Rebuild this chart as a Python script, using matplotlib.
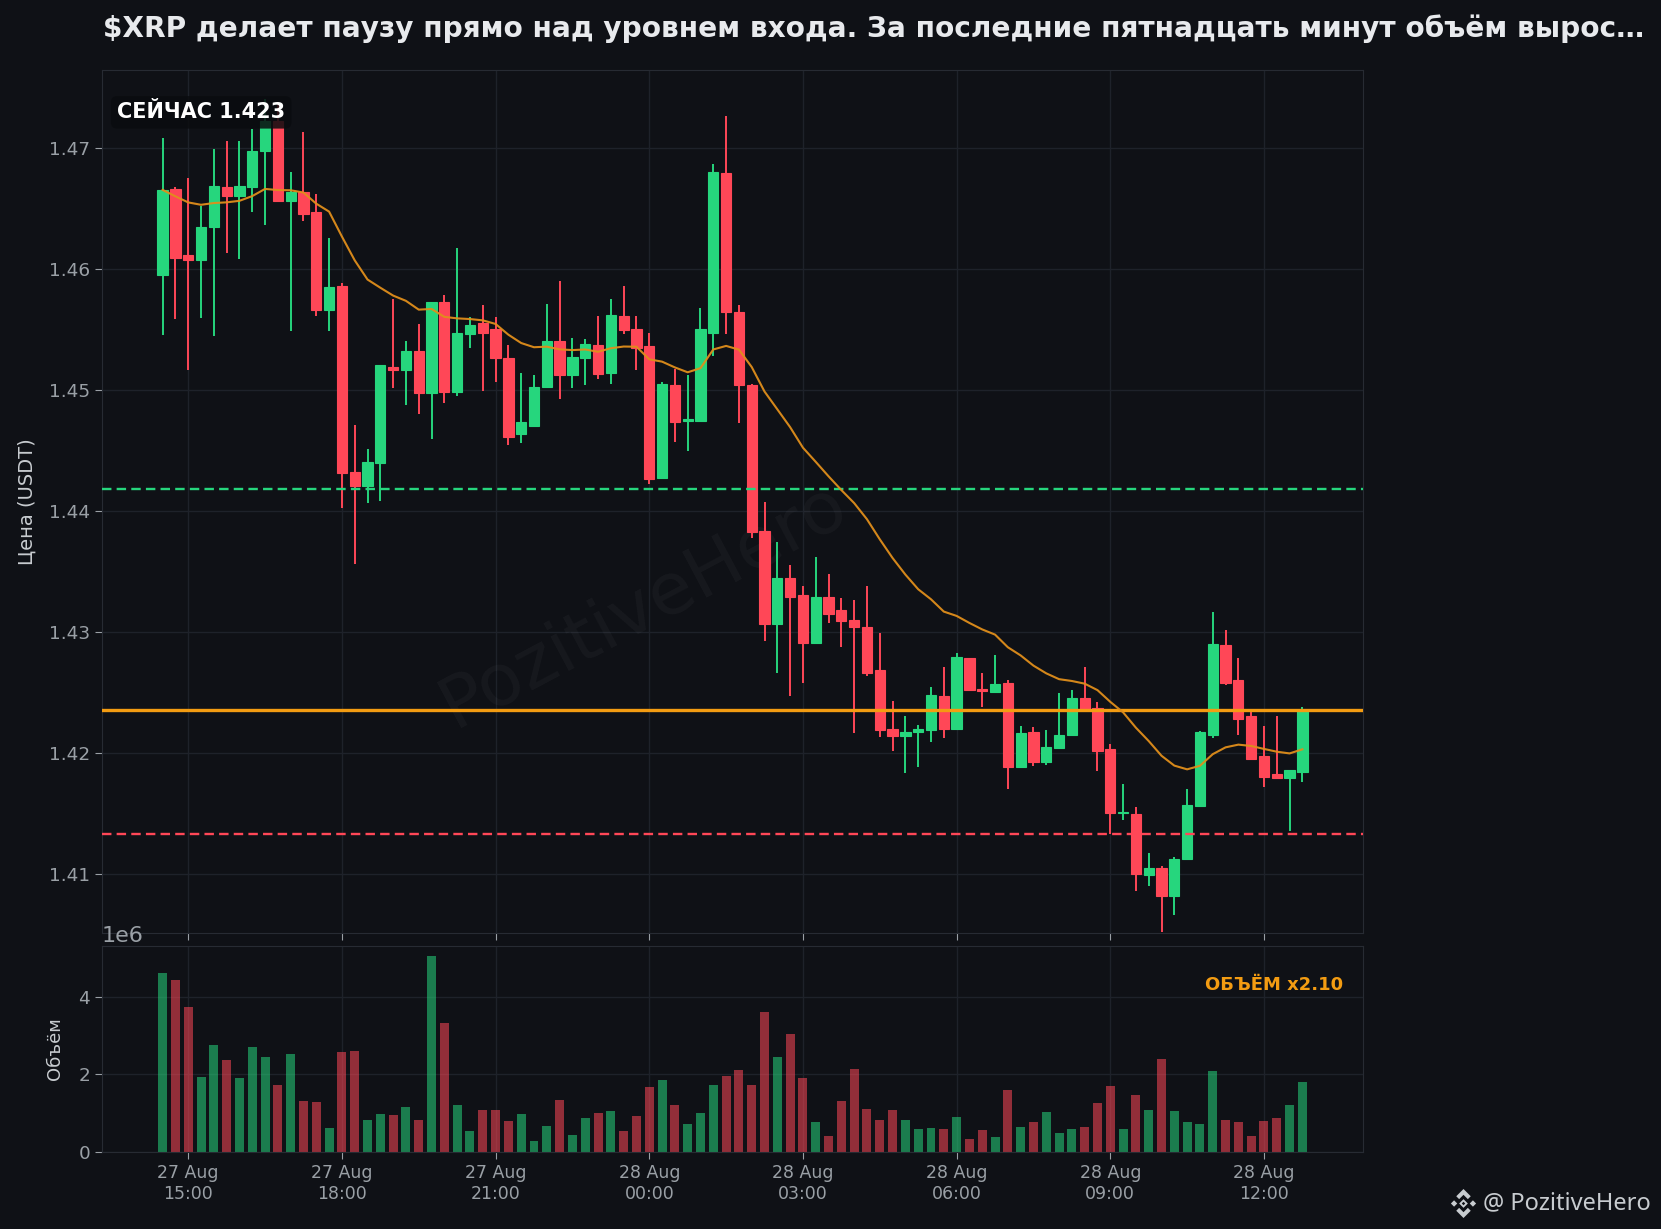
import numpy as np
import pandas as pd
import matplotlib
matplotlib.use('Agg')
import matplotlib.pyplot as plt
import matplotlib.dates as mdates
from matplotlib.patches import Polygon
from matplotlib.ticker import MultipleLocator, FormatStrFormatter

######################## data (15m candles) ########################

startTime = '2025-08-27 14:30'

openList = [1.4595, 1.4666, 1.4611, 1.4607, 1.4634, 1.4667, 1.4660, 1.4667, 1.4697, 1.4722,
            1.4656, 1.4663, 1.4647, 1.4566, 1.4586, 1.4432, 1.4420, 1.4439, 1.4519, 1.4516,
            1.4532, 1.4497, 1.4572, 1.4498, 1.4546, 1.4555, 1.4550, 1.4526, 1.4463, 1.4470,
            1.4502, 1.4540, 1.4512, 1.4526, 1.4537, 1.4514, 1.4561, 1.4550, 1.4536, 1.4427,
            1.4504, 1.4474, 1.4474, 1.4547, 1.4679, 1.4564, 1.4504, 1.4383, 1.4306, 1.4344,
            1.4330, 1.4291, 1.4329, 1.4318, 1.4310, 1.4304, 1.4268, 1.4220, 1.4214, 1.4217,
            1.4219, 1.4247, 1.4220, 1.4278, 1.4253, 1.4250, 1.4258, 1.4188, 1.4217, 1.4192,
            1.4204, 1.4215, 1.4245, 1.4237, 1.4203, 1.4150, 1.4149, 1.4099, 1.4105, 1.4082,
            1.4112, 1.4156, 1.4215, 1.4289, 1.4260, 1.4230, 1.4197, 1.4182, 1.4179, 1.4184]
highList = [1.4708, 1.4667, 1.4675, 1.4652, 1.4699, 1.4705, 1.4705, 1.4715, 1.4740, 1.4735,
            1.4680, 1.4713, 1.4662, 1.4625, 1.4588, 1.4471, 1.4451, 1.4520, 1.4575, 1.4540,
            1.4554, 1.4572, 1.4578, 1.4617, 1.4560, 1.4570, 1.4560, 1.4537, 1.4514, 1.4512,
            1.4571, 1.4590, 1.4543, 1.4542, 1.4561, 1.4575, 1.4586, 1.4561, 1.4547, 1.4506,
            1.4517, 1.4512, 1.4567, 1.4686, 1.4726, 1.4570, 1.4505, 1.4407, 1.4374, 1.4355,
            1.4338, 1.4362, 1.4348, 1.4328, 1.4326, 1.4338, 1.4299, 1.4243, 1.4230, 1.4223,
            1.4254, 1.4271, 1.4282, 1.4278, 1.4266, 1.4281, 1.4260, 1.4222, 1.4221, 1.4219,
            1.4249, 1.4252, 1.4271, 1.4242, 1.4207, 1.4174, 1.4155, 1.4117, 1.4106, 1.4114,
            1.4170, 1.4218, 1.4316, 1.4301, 1.4278, 1.4234, 1.4222, 1.4230, 1.4186, 1.4238]
lowList = [1.4545, 1.4558, 1.4516, 1.4559, 1.4544, 1.4613, 1.4608, 1.4647, 1.4636, 1.4655,
           1.4548, 1.4639, 1.4561, 1.4548, 1.4402, 1.4356, 1.4406, 1.4408, 1.4501, 1.4487,
           1.4480, 1.4459, 1.4489, 1.4495, 1.4534, 1.4499, 1.4506, 1.4454, 1.4456, 1.4469,
           1.4502, 1.4492, 1.4501, 1.4504, 1.4509, 1.4505, 1.4546, 1.4516, 1.4422, 1.4426,
           1.4457, 1.4449, 1.4473, 1.4528, 1.4546, 1.4472, 1.4377, 1.4292, 1.4266, 1.4247,
           1.4258, 1.4290, 1.4307, 1.4287, 1.4216, 1.4263, 1.4213, 1.4201, 1.4183, 1.4188,
           1.4209, 1.4212, 1.4220, 1.4251, 1.4238, 1.4250, 1.4170, 1.4187, 1.4189, 1.4190,
           1.4204, 1.4215, 1.4236, 1.4185, 1.4133, 1.4144, 1.4086, 1.4090, 1.4052, 1.4066,
           1.4112, 1.4156, 1.4212, 1.4256, 1.4215, 1.4194, 1.4172, 1.4179, 1.4135, 1.4176]
closeList = [1.4665, 1.4609, 1.4607, 1.4634, 1.4668, 1.4660, 1.4668, 1.4697, 1.4722, 1.4656,
             1.4663, 1.4645, 1.4566, 1.4585, 1.4431, 1.4420, 1.4440, 1.4520, 1.4516, 1.4532,
             1.4497, 1.4572, 1.4498, 1.4547, 1.4553, 1.4547, 1.4526, 1.4461, 1.4473, 1.4502,
             1.4540, 1.4512, 1.4527, 1.4538, 1.4513, 1.4562, 1.4549, 1.4534, 1.4426, 1.4505,
             1.4473, 1.4476, 1.4550, 1.4680, 1.4564, 1.4504, 1.4382, 1.4306, 1.4344, 1.4329,
             1.4291, 1.4329, 1.4315, 1.4309, 1.4304, 1.4266, 1.4219, 1.4214, 1.4217, 1.4220,
             1.4248, 1.4220, 1.4279, 1.4252, 1.4251, 1.4257, 1.4188, 1.4216, 1.4192, 1.4205,
             1.4215, 1.4245, 1.4236, 1.4201, 1.4150, 1.4151, 1.4100, 1.4105, 1.4082, 1.4112,
             1.4157, 1.4217, 1.4290, 1.4258, 1.4228, 1.4195, 1.4180, 1.4179, 1.4186, 1.4235]
# volume in millions
volMil = [4.62, 4.44, 3.74, 1.93, 2.76, 2.37, 1.91, 2.71, 2.45, 1.72,
          2.53, 1.31, 1.28, 0.61, 2.58, 2.60, 0.82, 0.97, 0.95, 1.16,
          0.82, 5.06, 3.33, 1.21, 0.53, 1.08, 1.08, 0.79, 0.97, 0.28,
          0.66, 1.34, 0.43, 0.87, 1.00, 1.05, 0.53, 0.92, 1.67, 1.85,
          1.21, 0.72, 1.00, 1.72, 1.96, 2.11, 1.72, 3.61, 2.45, 3.04,
          1.91, 0.77, 0.41, 1.31, 2.14, 1.10, 0.82, 1.08, 0.82, 0.59,
          0.61, 0.59, 0.90, 0.33, 0.56, 0.38, 1.59, 0.64, 0.77, 1.03,
          0.48, 0.59, 0.64, 1.26, 1.70, 0.59, 1.47, 1.08, 2.40, 1.05,
          0.77, 0.72, 2.09, 0.82, 0.77, 0.41, 0.79, 0.87, 1.21, 1.80]

entryLevel = 1.4418
stopLevel = 1.4133
titleStr = '$XRP делает паузу прямо над уровнем входа. За последние пятнадцать минут объём вырос…'
volRatioStr = 'ОБЪЁМ x2.10'

######################## style ########################

bgColor = '#0f1116'
gridColor = '#1e222a'
spineColor = '#272b33'
tickColor = '#9aa0a6'
upColor = '#26d67d'
downColor = '#ff4757'
orange = '#f39c12'

o = np.array(openList)
h = np.array(highList)
l = np.array(lowList)
c = np.array(closeList)
vol = np.array(volMil) * 1e6
times = pd.date_range(startTime, periods=len(c), freq='15min')
isUp = c >= o
colors = np.where(isUp, upColor, downColor)
ema = pd.Series(c).ewm(span=20, adjust=False).mean().values
lastPrice = c[-1]

step = 15 / 1440  # 15 min in days
fig = plt.figure(figsize=(16.61, 12.29), dpi=100, facecolor=bgColor)
ax = fig.add_axes([0.0614, 0.2408, 0.7592, 0.7022], facecolor=bgColor)
axV = fig.add_axes([0.0614, 0.0627, 0.7592, 0.1676], facecolor=bgColor, sharex=ax)

for a in (ax, axV):
    a.grid(True, color=gridColor, lw=1)
    a.set_axisbelow(True)
    for s in a.spines.values():
        s.set_color(spineColor)
    a.tick_params(colors=tickColor, length=5)
    a.tick_params(axis='y', labelsize=13.3)
    a.tick_params(axis='x', labelsize=12.5)

######################## price panel ########################

ax.text(0.43, 0.38, 'PozitiveHero', transform=ax.transAxes, fontsize=52,
        color='white', alpha=0.035, rotation=28, ha='center', va='center', zorder=1)

ax.vlines(times, l, h, colors=colors, lw=1.4, zorder=2)
bodyH = np.abs(c - o)
bodyH = np.where(bodyH < 0.00008, 0.00008, bodyH)
ax.bar(times, bodyH, bottom=np.minimum(o, c), width=0.8 * step,
       color=colors, edgecolor=colors, lw=0.8, zorder=3)

ax.axhline(entryLevel, color=upColor, lw=1.7, ls=(0, (4, 2.2)), zorder=4)
ax.axhline(stopLevel, color=downColor, lw=1.7, ls=(0, (4, 2.2)), zorder=4)
ax.axhline(lastPrice, color=orange, lw=2.4, zorder=4)
ax.plot(times, ema, color='#e08e1b', lw=1.5, alpha=0.95, zorder=5)

ax.set_ylim(1.4051, 1.4764)
ax.yaxis.set_major_locator(MultipleLocator(0.01))
ax.yaxis.set_major_formatter(FormatStrFormatter('%.2f'))
ax.set_ylabel('Цена (USDT)', color='#c8ccd0', fontsize=14, labelpad=9)
ax.tick_params(axis='x', labelbottom=False)

ax.text(0.012, 0.951, f'СЕЙЧАС {lastPrice:.3f}', transform=ax.transAxes,
        fontsize=15, fontweight='bold', color='white', ha='left', va='center', zorder=7,
        bbox=dict(boxstyle='round,pad=0.3', fc='#0a0c0f', ec='none', alpha=0.85))

######################## volume panel ########################

volColors = np.where(isUp, upColor, downColor)
axV.bar(times, vol, width=0.7 * step, color=volColors, alpha=0.55, zorder=2)
axV.set_ylim(0, vol.max() * 1.05)
axV.yaxis.set_major_locator(MultipleLocator(2e6))
axV.yaxis.get_offset_text().set_fontsize(16)
axV.yaxis.get_offset_text().set_color(tickColor)
axV.set_ylabel('Объём', color='#c8ccd0', fontsize=13, labelpad=10)
axV.text(0.984, 0.81, volRatioStr, transform=axV.transAxes, fontsize=13,
         fontweight='bold', color=orange, ha='right', va='center')

axV.xaxis.set_major_locator(mdates.HourLocator(byhour=range(0, 24, 3)))
axV.xaxis.set_major_formatter(mdates.DateFormatter('%d %b\n%H:%M'))
axV.set_xlim(times[0] - pd.Timedelta(minutes=71), times[-1] + pd.Timedelta(minutes=71))
for lab in axV.get_xticklabels():
    lab.set_ha('center')

######################## title / footer ########################

fig.text(0.062, 0.9764, titleStr, fontsize=20.15, fontweight='bold', color='#e8eaed',
         ha='left', va='center')

# small binance-style logo next to the handle
logoAx = fig.add_axes([1449 / 1661, 1 - 1218 / 1229, 29 / 1661, 29 / 1229])
logoAx.set_xlim(-1, 1)
logoAx.set_ylim(-1, 1)
logoAx.axis('off')
logoColor = '#c8ccd0'
logoShapes = [
    [(0, 1), (0.5, 0.5), (0.3, 0.3), (0, 0.6), (-0.3, 0.3), (-0.5, 0.5)],
    [(0, -1), (0.5, -0.5), (0.3, -0.3), (0, -0.6), (-0.3, -0.3), (-0.5, -0.5)],
    [(-0.65, 0.22), (-0.43, 0), (-0.65, -0.22), (-0.87, 0)],
    [(0.65, 0.22), (0.87, 0), (0.65, -0.22), (0.43, 0)],
    [(0, 0.3), (0.3, 0), (0, -0.3), (-0.3, 0)],
]
for pts in logoShapes:
    logoAx.add_patch(Polygon(pts, closed=True, fc=logoColor, ec='none'))
logoAx.add_patch(Polygon([(0, 0.12), (0.12, 0), (0, -0.12), (-0.12, 0)], closed=True,
                         fc=bgColor, ec='none'))

fig.text(0.8928, 0.0212, '@ PozitiveHero', fontsize=17, color='#c8ccd0', ha='left',
         va='center', family=['Noto Sans', 'DejaVu Sans'])

fig.savefig('out.png', dpi=100, facecolor=bgColor)
